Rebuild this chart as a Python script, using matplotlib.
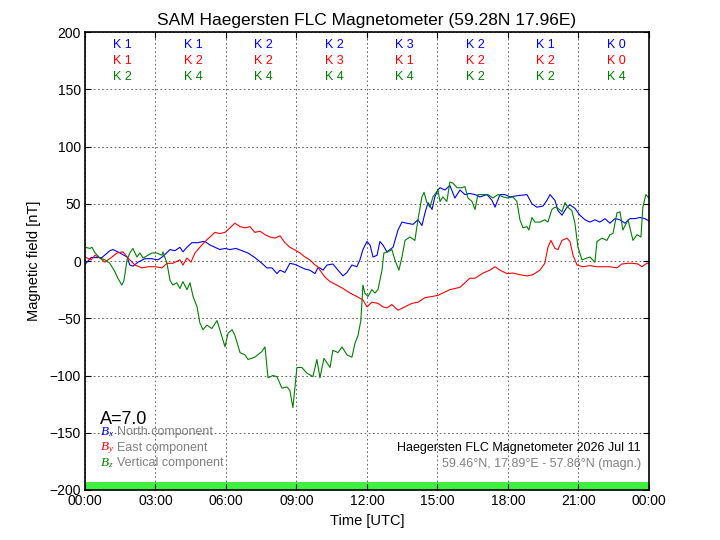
import matplotlib
matplotlib.use("Agg")
import matplotlib.pyplot as plt

plt.rcParams['font.family'] = ['Liberation Sans', 'DejaVu Sans']
plt.rcParams['mathtext.fontset'] = 'custom'
plt.rcParams['mathtext.it'] = 'Liberation Serif:italic'
plt.rcParams['mathtext.rm'] = 'Liberation Serif'

# North component (Bx), hours UTC / nT
bx_t = [0, 0.26, 0.72, 1.06, 1.19, 1.40, 1.79, 1.91, 2.04, 2.26, 2.55, 2.85, 3.11, 3.32,
        3.62, 3.83, 4.04, 4.17, 4.34, 4.55, 4.81, 5.02, 5.11, 5.32, 5.53, 5.74, 5.96, 6.17,
        6.43, 6.68, 6.94, 7.23, 7.53, 7.74, 7.96, 8.17, 8.30, 8.51, 8.72, 8.94, 9.15, 9.36,
        9.57, 9.79, 9.91, 10.0, 10.13, 10.30, 10.55, 10.77, 10.98, 11.15, 11.36, 11.57, 11.70,
        11.83, 12.00, 12.13, 12.26, 12.43, 12.55, 12.68, 12.85, 12.98, 13.11, 13.32, 13.49,
        13.70, 13.96, 14.17, 14.34, 14.47, 14.60, 14.77, 14.89, 15.02, 15.11, 15.32, 15.53,
        15.74, 15.96, 16.17, 16.38, 16.60, 16.81, 17.11, 17.32, 17.45, 17.66, 17.87, 18.09,
        18.38, 18.81, 19.02, 19.23, 19.49, 19.66, 19.79, 20.00, 20.13, 20.30, 20.51, 20.64,
        20.85, 21.06, 21.28, 21.49, 21.70, 21.91, 22.13, 22.34, 22.55, 22.77, 22.98, 23.19,
        23.40, 23.62, 23.83, 24.0]
bx = [-3, 3, 3, 9, 10, 8, 3.5, -3.5, -4.5, -1, 2, 2, 1, 4,
      10, 9, 12, 8, 12, 16, 16, 17, 17, 14, 12, 10, 11, 10,
      11, 9, 7, 3, -2, -6, -6, -11, -8, -10, -2, -3, -5, -7,
      -8, -11, -6, -6, -8, -3.5, -2.6, -8, -13, -10, -3.5, -5, 1,
      10, 17, 14, 3.5, 5, 17, 14, 8, 10, 12, 27, 34,
      33, 32, 36, 31, 42, 51, 45, 56, 62, 64, 62, 66,
      55, 62, 58, 59, 58, 56, 58, 53, 47, 58, 58, 56,
      57, 58, 50, 47, 48, 53, 58, 53, 44, 40, 47, 49,
      46, 40, 36, 34, 36, 34, 37, 33, 37, 36, 33, 37,
      37, 38, 37, 35]

# East component (By)
by_t = [0, 0.26, 0.43, 0.64, 0.85, 1.15, 1.36, 1.62, 1.83, 2.13, 2.43, 2.68, 2.98, 3.28,
        3.49, 3.74, 4.04, 4.17, 4.34, 4.51, 4.68, 4.89, 5.11, 5.32, 5.53, 5.74, 5.96, 6.17,
        6.38, 6.60, 6.81, 7.02, 7.23, 7.45, 7.66, 7.87, 8.09, 8.30, 8.51, 8.72, 8.94, 9.15,
        9.36, 9.57, 9.79, 9.91, 10.0, 10.21, 10.43, 10.72, 10.98, 11.28, 11.57, 11.83, 12.00,
        12.21, 12.47, 12.68, 12.85, 13.06, 13.32, 13.62, 13.91, 14.17, 14.47, 14.77, 15.02,
        15.53, 15.96, 16.38, 16.60, 16.94, 17.23, 17.45, 17.66, 17.96, 18.21, 18.51, 18.81,
        19.06, 19.36, 19.57, 19.70, 19.83, 20.00, 20.13, 20.30, 20.51, 20.64, 20.77, 20.94,
        21.19, 21.49, 21.79, 22.04, 22.34, 22.64, 22.85, 23.11, 23.32, 23.53, 23.70, 23.91, 24.0]
by = [3.5, 1, 5, 2.6, -1, 3.5, 7, 8, 2.6, -3.5, -6, -5, -5, -6,
      -2, -2, 1, -3.5, 2.6, -1, 7, 12, 17, 21, 25, 24, 25, 29,
      33, 30, 29, 30, 25, 26, 23, 21, 20, 22, 16, 12, 9.6, 7,
      3.5, 1, -3.5, -5, -8, -14, -18, -21, -24, -28, -31, -34, -40,
      -36, -37, -40, -41, -38, -43, -40, -37, -36, -32, -31, -30,
      -25, -23, -15, -15, -10.5, -8, -5, -8, -11, -10.5, -12, -13,
      -12, -8, -2, 12, 18, 11, 10, 18, 20, 17, 5, -3.5,
      -5, -4, -5, -5, -5, -6, -2.6, -2, -2, -2.6, -5, -2, -2]

# Vertical component (Bz)
bz_t = [0, 0.21, 0.30, 0.43, 0.64, 0.85, 1.06, 1.28, 1.40, 1.57, 1.66, 1.79, 1.91, 2.04,
        2.21, 2.34, 2.47, 2.68, 2.85, 3.06, 3.28, 3.32, 3.49, 3.62, 3.74, 3.91, 4.04, 4.17,
        4.34, 4.47, 4.60, 4.77, 4.89, 5.02, 5.19, 5.40, 5.62, 5.74, 5.96, 6.09, 6.26, 6.38,
        6.60, 6.81, 6.94, 7.23, 7.53, 7.66, 7.79, 8.00, 8.17, 8.38, 8.60, 8.72, 8.85, 9.02,
        9.23, 9.45, 9.70, 9.87, 10.00, 10.17, 10.43, 10.55, 10.77, 10.94, 11.15, 11.36, 11.49,
        11.62, 11.74, 11.83, 11.91, 12.04, 12.21, 12.34, 12.47, 12.64, 12.72, 12.89, 13.06,
        13.19, 13.36, 13.49, 13.62, 13.83, 14.04, 14.17, 14.34, 14.43, 14.55, 14.68, 14.81,
        15.02, 15.11, 15.23, 15.40, 15.53, 15.66, 15.83, 16.04, 16.17, 16.30, 16.47, 16.60,
        16.72, 16.94, 17.15, 17.36, 17.57, 17.79, 18.00, 18.21, 18.38, 18.51, 18.64, 18.81,
        18.89, 19.02, 19.15, 19.36, 19.57, 19.70, 19.87, 20.00, 20.13, 20.30, 20.43, 20.55,
        20.72, 20.85, 20.98, 21.15, 21.36, 21.49, 21.70, 21.79, 22.00, 22.21, 22.34, 22.47,
        22.64, 22.77, 22.89, 23.11, 23.32, 23.49, 23.66, 23.74, 23.87, 24.0]
bz = [12, 11, 12, 7, 2.6, 1, -2, -9.6, -15, -21, -17, 1, 7, 11,
      3.5, 7, 2.6, 5, 7, 7, 5, 8, -2, -17, -21, -19, -24, -18,
      -25, -19, -31, -40, -54, -60, -56, -59, -52, -60, -75, -63, -60, -65,
      -80, -82, -86, -84, -79, -75, -102, -100, -101, -111, -110, -113, -128, -93,
      -93, -98, -101, -86, -102, -85, -93, -78, -80, -75, -82, -84, -72,
      -65, -52, -21, -28, -31, -25, -28, -25, -8, 7, 8, 10,
      1, -8, 3.5, 18, 21, 18, 36, 56, 60, 51, 47, 56,
      62, 52, 56, 52, 69, 68, 64, 64, 65, 55, 52, 45,
      58, 58, 58, 55, 58, 56, 55, 56, 52, 36, 29, 30,
      27, 38, 34, 34, 36, 34, 45, 47, 46, 43, 51, 47,
      44, 33, 12, 1, 2.6, 3.5, -1, 17, 20, 18, 23, 24,
      42, 43, 27, 36, 18, 23, 21, 47, 58, 55]

# K indices per 3-hour interval
k_x = [1, 1, 2, 2, 3, 2, 1, 0]
k_y = [1, 2, 2, 3, 1, 2, 2, 0]
k_z = [2, 4, 4, 4, 4, 2, 2, 4]
bar_color = ['#40f040'] * 8

hour_ticks = [0, 3, 6, 9, 12, 15, 18, 21, 24]
hour_labels = ['00:00', '03:00', '06:00', '09:00', '12:00', '15:00', '18:00', '21:00', '00:00']

fig = plt.figure(figsize=(7.2, 5.4), dpi=100)
ax = fig.add_axes([0.118, 0.0926, 0.7833, 0.8481])

ax.plot(bx_t, bx, color='b', lw=0.8)
ax.plot(by_t, by, color='r', lw=0.8)
ax.plot(bz_t, bz, color='g', lw=0.8)

# activity bar at the bottom
ax.bar([h + 1.5 for h in hour_ticks[:-1]], [7] * 8, width=3, bottom=-200,
       color=bar_color, edgecolor='none', zorder=1)

for i in range(8):
    xc = 3 * i + 1.6
    ax.text(xc, 188.5, 'K %d' % k_x[i], color='b', fontsize=9, ha='center', va='center')
    ax.text(xc, 174.5, 'K %d' % k_y[i], color='r', fontsize=9, ha='center', va='center')
    ax.text(xc, 160.5, 'K %d' % k_z[i], color='g', fontsize=9, ha='center', va='center')

ax.set_xlim(0, 24)
ax.set_ylim(-200, 200)
ax.set_xticks(hour_ticks)
ax.set_xticklabels(hour_labels)
ax.set_yticks(range(-200, 201, 50))
ax.tick_params(direction='in', top=True, right=True, labelsize=10, length=4, pad=3)
ax.grid(True, color='k', linestyle=(0, (2, 3)), linewidth=0.6, alpha=0.7)
for s in ax.spines.values():
    s.set_linewidth(1.2)

ax.set_title('SAM Haegersten FLC Magnetometer (59.28N 17.96E)', fontsize=12.5, pad=5)
ax.set_xlabel('Time [UTC]', fontsize=10.5, labelpad=4)
ax.set_ylabel('Magnetic field [nT]', fontsize=10.5, labelpad=6)

tr = ax.transAxes
ax.text(0.027, 0.153, 'A=7.0', fontsize=13, ha='left', va='center', transform=tr)
legend_rows = [('$B_x$', 'b', 'North component', 0.126),
               ('$B_y$', 'r', 'East component', 0.092),
               ('$B_z$', 'g', 'Vertical component', 0.058)]
for sym, col, label, yy in legend_rows:
    ax.text(0.027, yy, sym, color=col, fontsize=9.5, ha='left', va='center', transform=tr)
    ax.text(0.056, yy, label, color='gray', fontsize=9, ha='left', va='center', transform=tr)

ax.text(0.986, 0.092, 'Haegersten FLC Magnetometer 2026 Jul 11', fontsize=9,
        ha='right', va='center', transform=tr)
ax.text(0.986, 0.057, '59.46°N, 17.89°E - 57.86°N (magn.)', fontsize=9, color='gray',
        ha='right', va='center', transform=tr)

fig.savefig('out.png', dpi=100)
